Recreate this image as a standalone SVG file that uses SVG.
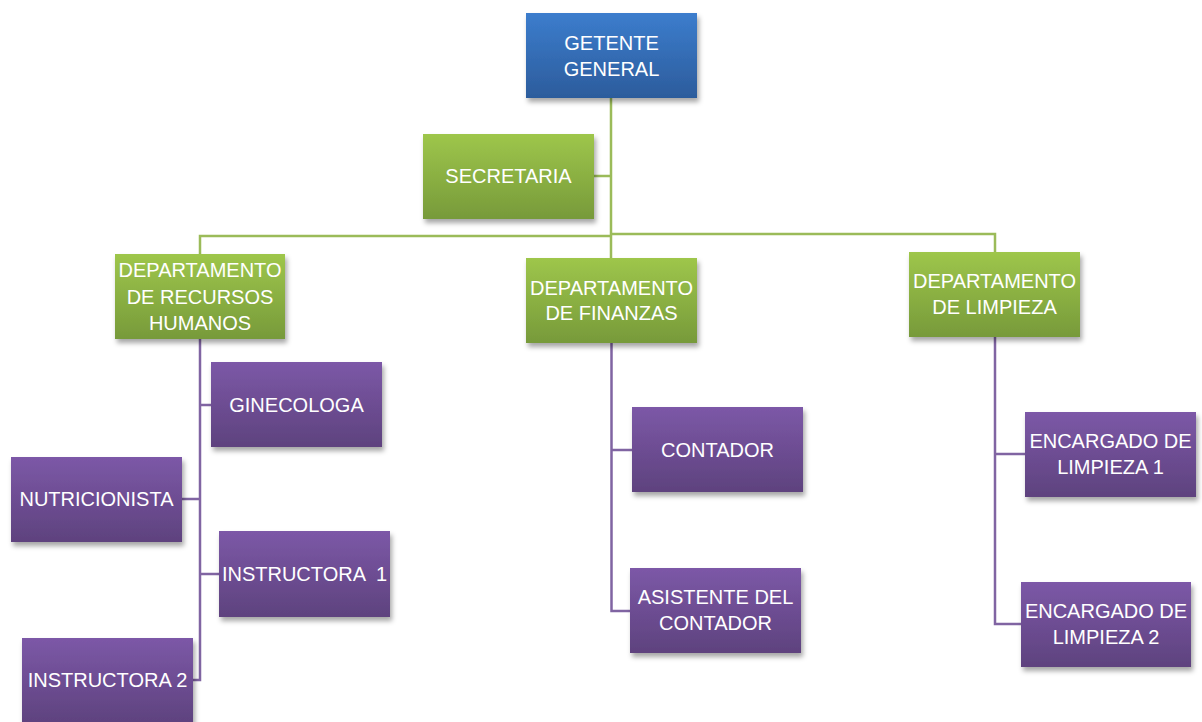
<svg xmlns="http://www.w3.org/2000/svg" width="1202" height="722" viewBox="0 0 1202 722">
<style>
.t{font-family:"Liberation Sans",Arial,sans-serif;font-size:20px;fill:#ffffff;text-anchor:middle}
.g{stroke:#9bbb59;stroke-width:2.5;fill:none}
.p{stroke:#8064a2;stroke-width:2.5;fill:none}
</style>
<defs>
<linearGradient id="gb" x1="0" y1="0" x2="0" y2="1"><stop offset="0" stop-color="#3c7dcd"/><stop offset="1" stop-color="#2c5c9c"/></linearGradient>
<linearGradient id="gg" x1="0" y1="0" x2="0" y2="1"><stop offset="0" stop-color="#9ec64b"/><stop offset="1" stop-color="#779a3a"/></linearGradient>
<linearGradient id="gp" x1="0" y1="0" x2="0" y2="1"><stop offset="0" stop-color="#7c58a7"/><stop offset="1" stop-color="#5e427e"/></linearGradient>
<filter id="sh" x="-10%" y="-10%" width="125%" height="140%"><feDropShadow dx="2" dy="4" stdDeviation="2.5" flood-color="#000" flood-opacity="0.35"/></filter>
</defs>
<rect width="1202" height="722" fill="#ffffff"/>
<g id="connectors">
<path class="g" d="M611 98V237M594 176H611M200 254V236H611M611 234H995V252M611 234V258"/>
<path class="p" d="M200 339V680H193M200 405H211M200 499H182M200 574H219"/>
<path class="p" d="M611.5 343V611H630M611.5 450H632"/>
<path class="p" d="M995 337V624H1021M995 454H1025"/>
</g>
<g id="gerente"><rect x="526" y="13" width="171" height="85" fill="url(#gb)" filter="url(#sh)"/><text class="t" x="611.5" y="50">GETENTE</text><text class="t" x="611.5" y="76">GENERAL</text></g>
<g id="secretaria"><rect x="423" y="134" width="171" height="85" fill="url(#gg)" filter="url(#sh)"/><text class="t" x="508.5" y="183">SECRETARIA</text></g>
<g id="rrhh"><rect x="115" y="254" width="170" height="85" fill="url(#gg)" filter="url(#sh)"/><text class="t" x="200" y="277">DEPARTAMENTO</text><text class="t" x="200" y="304">DE RECURSOS</text><text class="t" x="200" y="330">HUMANOS</text></g>
<g id="finanzas"><rect x="526" y="258" width="171" height="85" fill="url(#gg)" filter="url(#sh)"/><text class="t" x="611.5" y="295">DEPARTAMENTO</text><text class="t" x="611.5" y="320">DE FINANZAS</text></g>
<g id="limpieza"><rect x="909" y="252" width="171" height="85" fill="url(#gg)" filter="url(#sh)"/><text class="t" x="994.5" y="288">DEPARTAMENTO</text><text class="t" x="994.5" y="314">DE LIMPIEZA</text></g>
<g id="ginecologa"><rect x="211" y="362" width="171" height="85" fill="url(#gp)" filter="url(#sh)"/><text class="t" x="296.5" y="412">GINECOLOGA</text></g>
<g id="nutricionista"><rect x="11" y="457" width="171" height="85" fill="url(#gp)" filter="url(#sh)"/><text class="t" x="96.5" y="506">NUTRICIONISTA</text></g>
<g id="instructora1"><rect x="219" y="531" width="171" height="86" fill="url(#gp)" filter="url(#sh)"/><text class="t" x="304.5" y="581" xml:space="preserve">INSTRUCTORA  1</text></g>
<g id="instructora2"><rect x="22" y="638" width="171" height="86" fill="url(#gp)" filter="url(#sh)"/><text class="t" x="107.5" y="687">INSTRUCTORA 2</text></g>
<g id="contador"><rect x="632" y="407" width="171" height="85" fill="url(#gp)" filter="url(#sh)"/><text class="t" x="717.5" y="457">CONTADOR</text></g>
<g id="asistente"><rect x="630" y="568" width="171" height="85" fill="url(#gp)" filter="url(#sh)"/><text class="t" x="715.5" y="604">ASISTENTE DEL</text><text class="t" x="715.5" y="630">CONTADOR</text></g>
<g id="encargado1"><rect x="1025" y="412" width="171" height="85" fill="url(#gp)" filter="url(#sh)"/><text class="t" x="1110.5" y="448">ENCARGADO DE</text><text class="t" x="1110.5" y="474">LIMPIEZA 1</text></g>
<g id="encargado2"><rect x="1021" y="582" width="170" height="85" fill="url(#gp)" filter="url(#sh)"/><text class="t" x="1106" y="618">ENCARGADO DE</text><text class="t" x="1106" y="644">LIMPIEZA 2</text></g>
</svg>
